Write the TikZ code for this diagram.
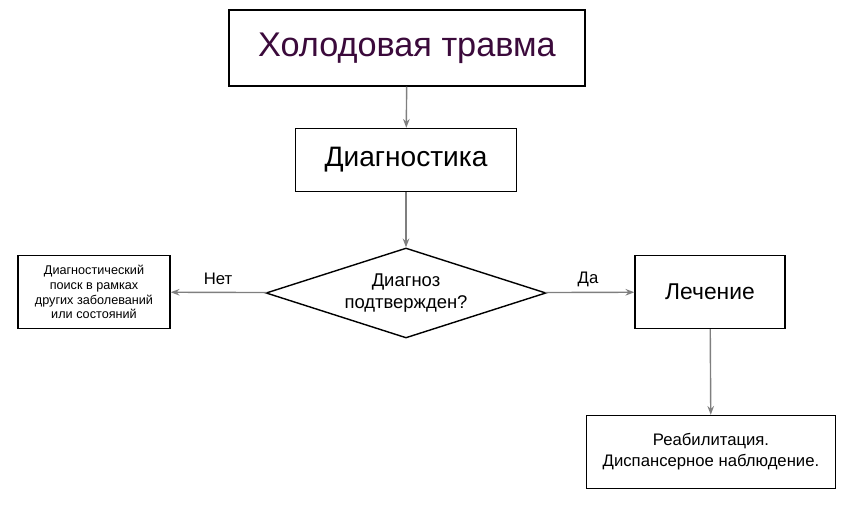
\documentclass[tikz,border=0pt]{standalone}
\usepackage{fontspec}
\setmainfont{Liberation Sans}
\usetikzlibrary{shapes.geometric, positioning, arrows.meta}
\definecolor{FlowGray}{HTML}{7F7F7F}
\definecolor{TitlePurple}{HTML}{3B0A3B}

\begin{document}
\begin{tikzpicture}[x=0.02cm, y=-0.02cm,
    box/.style={draw, thick, fill=white, align=center, inner sep=0pt},
    flow/.style={-{Stealth[length=5pt]}, FlowGray, thick}]
                \useasboundingbox (0,0) rectangle (852,509);
                % Flow
                \node[box, minimum width=356*0.02cm, minimum height=76*0.02cm, font=\fontsize{19.5}{22}\selectfont, text=TitlePurple] (cold) at (407,48) {Холодовая травма};
                \node[box, minimum width=221*0.02cm, minimum height=63*0.02cm, font=\fontsize{16}{19}\selectfont] (diag) at (406,160) {Диагностика};
                \node[draw, thick, diamond, aspect=3.1, minimum width=280*0.02cm, minimum height=90*0.02cm, inner sep=0pt, align=center, font=\fontsize{10.5}{12.5}\selectfont] (check) at (406,293) {Диагноз\\подтвержден?};
                \node[box, minimum width=152*0.02cm, minimum height=73*0.02cm, font=\fontsize{7.2}{8.4}\selectfont] (search) at (94,292) {Диагностический\\поиск в рамках\\других заболеваний\\или состояний};
                \node[box, minimum width=150*0.02cm, minimum height=73*0.02cm, font=\fontsize{13}{15}\selectfont] (treat) at (710,292) {Лечение};
                \node[box, minimum width=249*0.02cm, minimum height=73*0.02cm, font=\fontsize{9.5}{12}\selectfont] (rehab) at (711,452) {Реабилитация.\\Диспансерное наблюдение.};

                \draw[flow] (cold) -- (diag);
                \draw[flow] (diag) -- (check);
                \draw[flow] (check) -- (search);
                \draw[flow] (check) -- (treat);
                \draw[flow] (treat) -- (rehab);

                % Labels
                \node[font=\fontsize{9.5}{11}\selectfont] (no) at (218,279) {Нет};
                \node[font=\fontsize{9.5}{11}\selectfont] (yes) at (588,279) {Да};
            \end{tikzpicture}
\end{document}
